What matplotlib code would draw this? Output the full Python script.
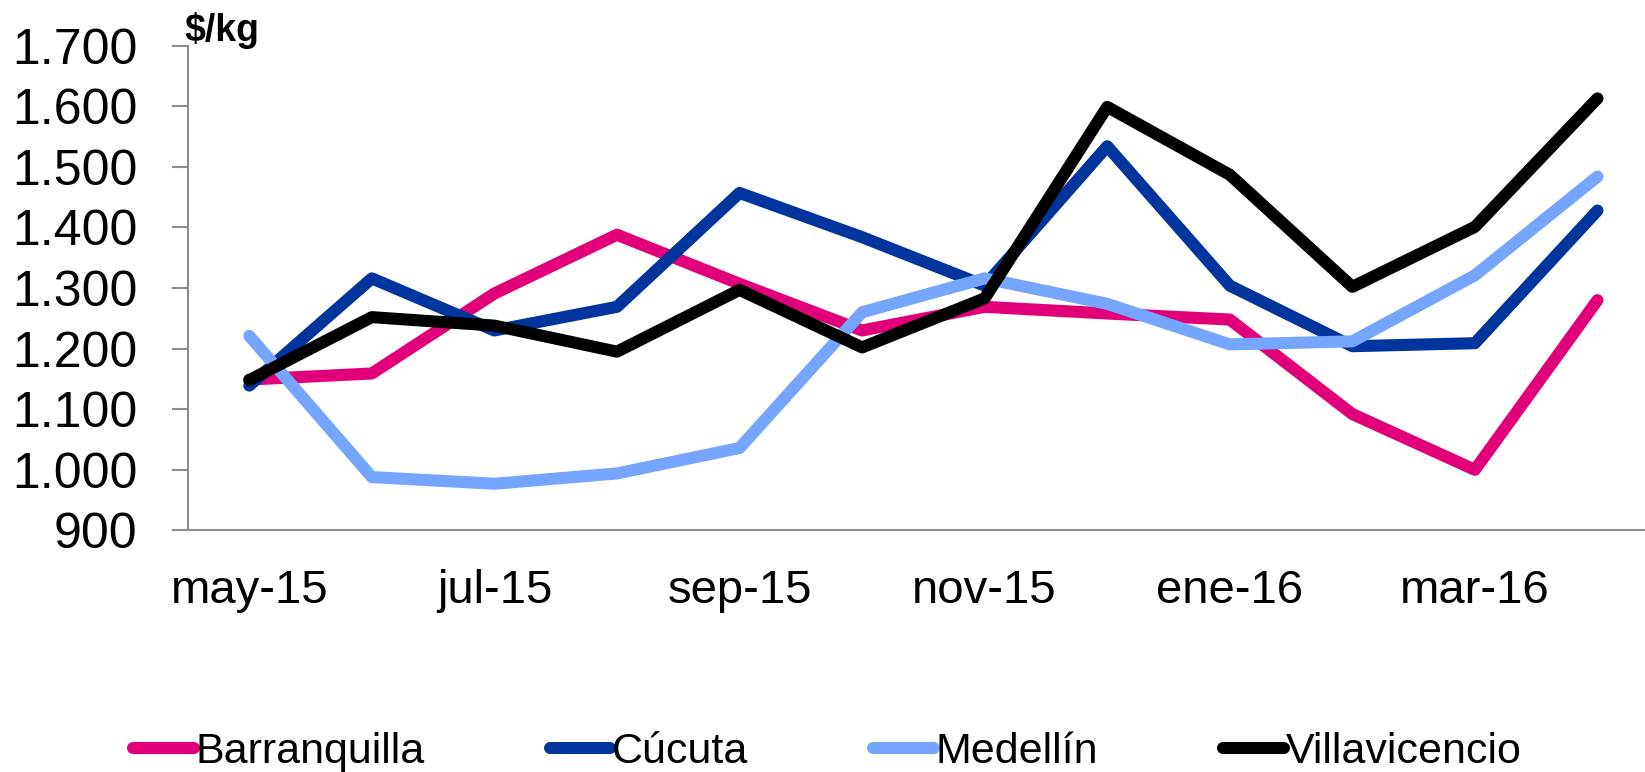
import matplotlib
matplotlib.use("Agg")
import matplotlib.pyplot as plt
from matplotlib.ticker import FuncFormatter

plt.rcParams['font.family'] = ['Liberation Sans', 'DejaVu Sans']

months = ['may-15', 'jun-15', 'jul-15', 'ago-15', 'sep-15', 'oct-15',
          'nov-15', 'dic-15', 'ene-16', 'feb-16', 'mar-16', 'abr-16']

barranquilla = [1149, 1159, 1291, 1388, 1307, 1230, 1269, 1258, 1248, 1092, 1000, 1280]
cucuta = [1139, 1316, 1230, 1269, 1457, 1384, 1304, 1534, 1304, 1204, 1209, 1428]
medellin = [1221, 988, 977, 994, 1036, 1260, 1316, 1274, 1207, 1212, 1321, 1484]
villavicencio = [1148, 1252, 1238, 1195, 1297, 1202, 1283, 1599, 1487, 1302, 1401, 1613]

series = [
    ('Barranquilla', barranquilla, '#E2007A'),
    ('Cúcuta', cucuta, '#00359E'),
    ('Medellín', medellin, '#75A5FF'),
    ('Villavicencio', villavicencio, '#000000'),
]

W, H = 1645, 772
fig = plt.figure(figsize=(W / 100, H / 100), dpi=100)
ax = fig.add_axes([188 / W, (H - 530.4) / H, (W - 188) / W, (530.4 - 45.7) / H])

x = list(range(len(months)))
for name, vals, col in series:
    ax.plot(x, vals, color=col, linewidth=8.7, label=name,
            solid_capstyle='round', solid_joinstyle='round')

ax.set_ylim(900, 1700)
ax.set_yticks(range(900, 1701, 100))
ax.yaxis.set_major_formatter(FuncFormatter(lambda v, p: f"{int(v):,}".replace(",", ".")))
ax.set_xlim(-0.5, 11 + (W - 1597.5) / 122.5)
ax.set_xticks(x[::2])
ax.set_xticklabels(months[::2])

for s in ['top', 'right']:
    ax.spines[s].set_visible(False)
for s in ['left', 'bottom']:
    ax.spines[s].set_color('#8c8c8c')
    ax.spines[s].set_linewidth(1.5)

ax.tick_params(axis='y', length=11.5, width=1.5, color='#8c8c8c', labelsize=36, pad=25)
ax.tick_params(axis='x', length=0, labelsize=34, pad=28)

fig.text(184 / W, (H - 41) / H, '$/kg', fontsize=27, fontweight='bold', va='baseline')

fig.legend(loc='center', bbox_to_anchor=(0.503, 0.026), ncol=4, frameon=False,
           fontsize=31, handlelength=1.4, handletextpad=0.05, columnspacing=2.9,
           borderpad=0)

fig.savefig('out.png', dpi=100)
